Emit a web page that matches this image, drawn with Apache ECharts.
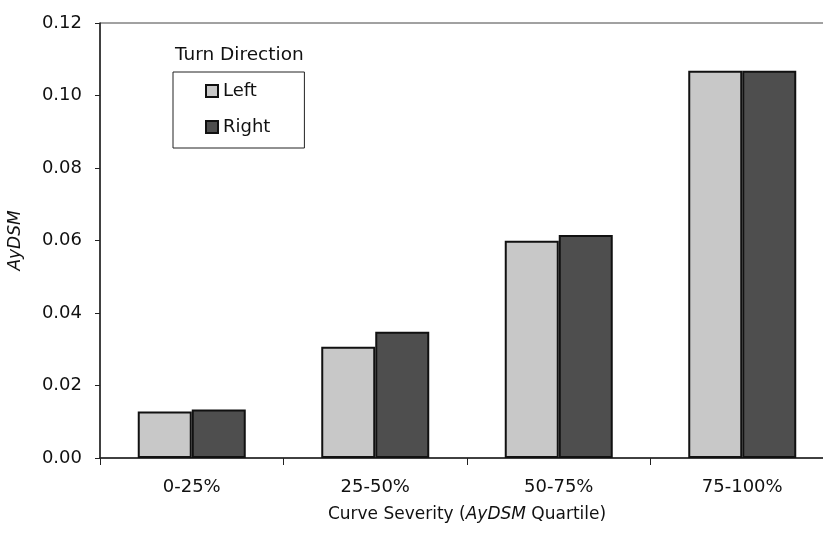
<!DOCTYPE html>
<html>
<head>
<meta charset="utf-8">
<script src="https://cdn.jsdelivr.net/npm/echarts@6/dist/echarts.min.js"></script>
<style>
  html, body { margin: 0; padding: 0; background: #fff; }
  #main { width: 823px; height: 535px; }
</style>
</head>
<body>
<div id="main"></div>
<script>
// quartiles of curve severity
const categories = ["0-25%", "25-50%", "50-75%", "75-100%"];
const leftTurn = [0.0128, 0.0307, 0.0599, 0.1068];
const rightTurn = [0.0134, 0.0348, 0.0615, 0.1068];

const font = "DejaVu Sans";
const ink = "#111";

var chart = echarts.init(document.getElementById("main"));
var option = {
  animation: false,
  textStyle: { fontFamily: font, color: ink },
  grid: {
    left: 100,
    top: 23,
    width: 734,
    bottom: 77,
    outerBoundsMode: "none",
    containLabel: false,
    show: true,
    borderColor: "#444",
    borderWidth: 1
  },
  legend: {
    orient: "vertical",
    left: 173,
    top: 72,
    padding: [10, 34, 12, 32],
    itemWidth: 12,
    itemHeight: 12,
    itemGap: 18,
    borderColor: "#222",
    borderWidth: 1,
    backgroundColor: "#fff",
    textStyle: { fontFamily: font, fontSize: 18, color: ink },
    data: [
      { name: "Left", icon: "rect" },
      { name: "Right", icon: "rect" }
    ]
  },
  graphic: [
    {
      type: "text",
      left: 175,
      top: 46,
      style: { text: "Turn Direction", font: "18.5px DejaVu Sans", fill: ink }
    }
  ],
  xAxis: {
    type: "category",
    data: categories,
    name: "Curve Severity ({i|AyDSM} Quartile)",
    nameLocation: "middle",
    nameGap: 48,
    nameTextStyle: {
      fontFamily: font,
      fontSize: 17,
      color: ink,
      rich: { i: { fontFamily: font, fontSize: 17, fontStyle: "italic", color: ink } }
    },
    axisLine: { lineStyle: { color: "#222", width: 1.5 } },
    axisTick: { show: true, length: 7, lineStyle: { color: "#222" } },
    axisLabel: { margin: 20, fontSize: 18, color: ink, fontFamily: font }
  },
  yAxis: {
    type: "value",
    min: 0,
    max: 0.12,
    interval: 0.02,
    name: "AyDSM",
    nameLocation: "middle",
    nameGap: 76,
    nameTextStyle: { fontFamily: font, fontSize: 17, fontStyle: "italic", color: ink },
    splitLine: { show: false },
    axisLine: { show: true, lineStyle: { color: "#222", width: 1.5 } },
    axisTick: { show: true, length: 5, lineStyle: { color: "#222" } },
    axisLabel: {
      margin: 18,
      fontSize: 18,
      color: ink,
      fontFamily: font,
      formatter: v => v.toFixed(2)
    }
  },
  series: [
    {
      name: "Left",
      type: "bar",
      data: leftTurn,
      barWidth: 54,
      barGap: "0%",
      itemStyle: { color: "#c8c8c8", borderColor: "#111", borderWidth: 2 }
    },
    {
      name: "Right",
      type: "bar",
      data: rightTurn,
      barWidth: 54,
      itemStyle: { color: "#4e4e4e", borderColor: "#111", borderWidth: 2 }
    }
  ]
};

chart.setOption(option);
</script>
</body>
</html>
